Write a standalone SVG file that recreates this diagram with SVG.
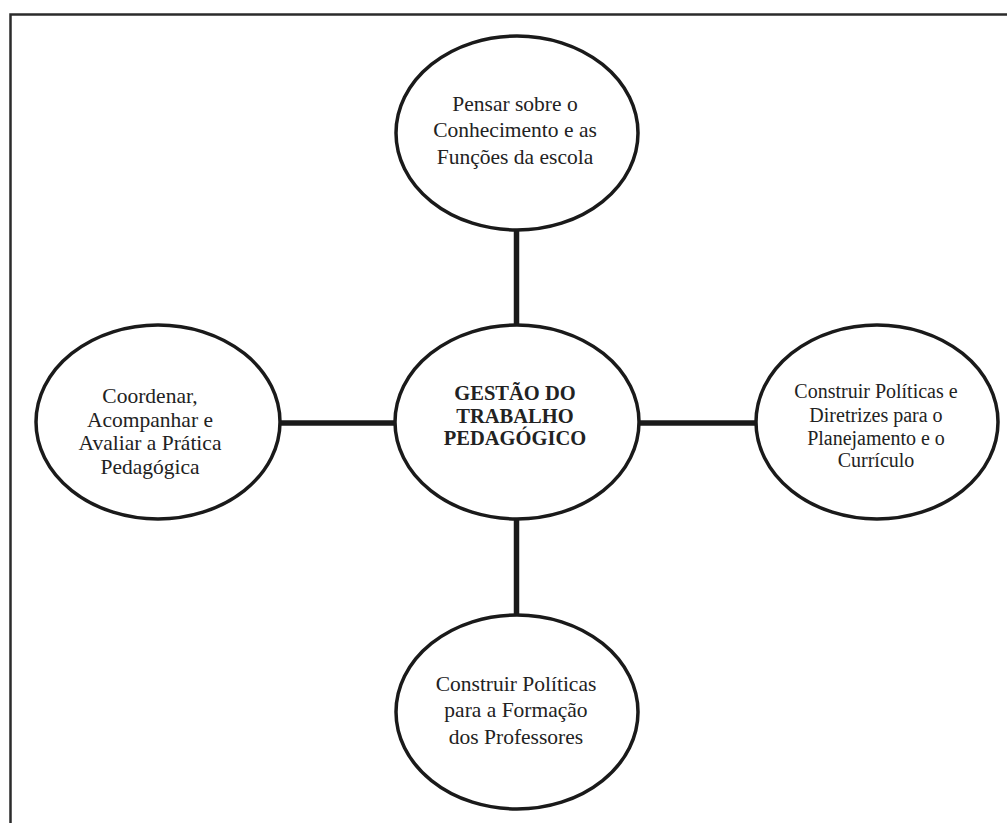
<svg xmlns="http://www.w3.org/2000/svg" width="1007" height="823" viewBox="0 0 1007 823">
<style>
.frame{fill:none;stroke:#2b2b2b;stroke-width:2.5}
.node{fill:#fff;stroke:#1a1a1a;stroke-width:3.5}
.conn{stroke:#1a1a1a;stroke-width:5.5;fill:none}
.t{font-family:"Liberation Serif","Times New Roman",serif;fill:#222;text-anchor:middle}
.n{font-size:21.5px}
.r{font-size:20px}
.b{font-size:20.5px;font-weight:bold}
</style>
<rect width="1007" height="823" fill="#fff"/>
<path class="frame" d="M10.5,823 V14.5 H1007"/>
<g id="connectors">
<line class="conn" x1="516.5" y1="229" x2="516.5" y2="326"/>
<line class="conn" x1="516.5" y1="518" x2="516.5" y2="616"/>
<line class="conn" x1="279" y1="423" x2="396" y2="423"/>
<line class="conn" x1="638" y1="423" x2="757" y2="423"/>
</g>
<g id="node-top">
<ellipse class="node" cx="517" cy="133" rx="121" ry="97"/>
<text class="t n" x="515"><tspan x="515" y="111">Pensar sobre o</tspan><tspan x="515" y="137">Conhecimento e as</tspan><tspan x="515" y="164">Funções da escola</tspan></text>
</g>
<g id="node-center">
<ellipse class="node" cx="517" cy="422" rx="122" ry="97"/>
<text class="t b" x="515"><tspan x="515" y="400">GESTÃO DO</tspan><tspan x="515" y="422.5">TRABALHO</tspan><tspan x="515" y="445">PEDAGÓGICO</tspan></text>
</g>
<g id="node-left">
<ellipse class="node" cx="158" cy="422" rx="122" ry="97"/>
<text class="t n" x="150"><tspan x="150" y="403">Coordenar,</tspan><tspan x="150" y="427">Acompanhar e</tspan><tspan x="150" y="450">Avaliar a Prática</tspan><tspan x="150" y="474">Pedagógica</tspan></text>
</g>
<g id="node-right">
<ellipse class="node" cx="877" cy="422" rx="121" ry="97"/>
<text class="t r" x="876"><tspan x="876" y="398">Construir Políticas e</tspan><tspan x="876" y="422">Diretrizes para o</tspan><tspan x="876" y="445">Planejamento e o</tspan><tspan x="876" y="467">Currículo</tspan></text>
</g>
<g id="node-bottom">
<ellipse class="node" cx="517" cy="712" rx="121" ry="97"/>
<text class="t n" x="516"><tspan x="516" y="691">Construir Políticas</tspan><tspan x="516" y="717">para a Formação</tspan><tspan x="516" y="744">dos Professores</tspan></text>
</g>
</svg>
